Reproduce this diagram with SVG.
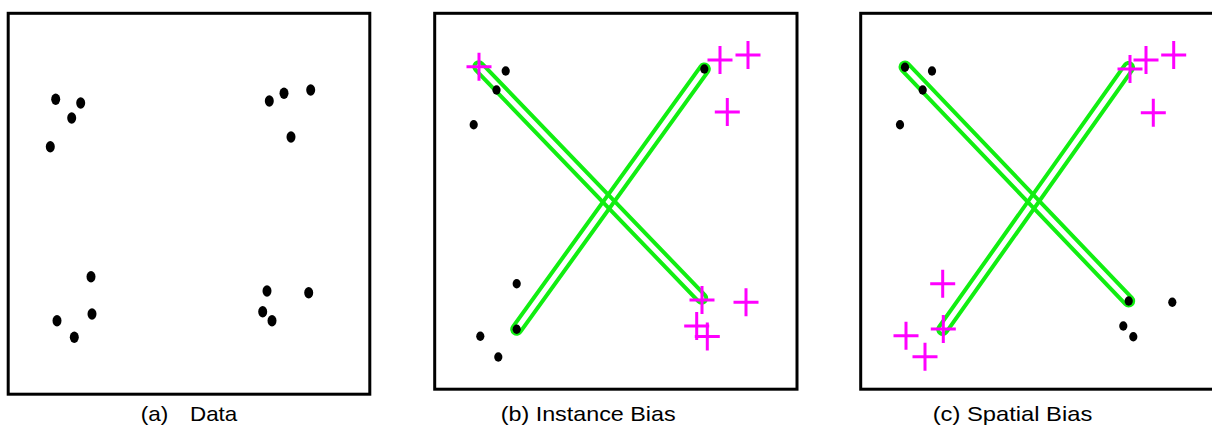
<svg xmlns="http://www.w3.org/2000/svg" xmlns:xlink="http://www.w3.org/1999/xlink" width="1212" height="425" viewBox="0 0 1212 425">
<style>
.frame{fill:none;stroke:#000;stroke-width:3}
.lbl{font-family:"Liberation Sans",Arial,sans-serif;font-size:21px;fill:#000}
.cap{stroke:#11ee11;stroke-width:4;fill:none}
.plus{stroke:#ff00ff;stroke-width:3;fill:none}
</style>
<defs>
<ellipse id="dA" rx="4.5" ry="5.7" fill="#000"/>
<ellipse id="dB" rx="4.1" ry="4.7" fill="#000"/>
<path id="pl" class="plus" d="M-12.5 0H12.5M0 -14V14"/>
</defs>
<rect width="1212" height="425" fill="#fff"/>

<g id="panel-a">
<rect class="frame" x="8.2" y="13.3" width="361.6" height="380.9"/>
<use xlink:href="#dA" x="55.7" y="99.3"/>
<use xlink:href="#dA" x="80.7" y="103"/>
<use xlink:href="#dA" x="71.7" y="118"/>
<use xlink:href="#dA" x="50.3" y="146.7"/>
<use xlink:href="#dA" x="269.3" y="101"/>
<use xlink:href="#dA" x="284" y="93.3"/>
<use xlink:href="#dA" x="310.7" y="90"/>
<use xlink:href="#dA" x="291" y="137"/>
<use xlink:href="#dA" x="91" y="276.7"/>
<use xlink:href="#dA" x="57" y="320.7"/>
<use xlink:href="#dA" x="92" y="314"/>
<use xlink:href="#dA" x="74.3" y="337.3"/>
<use xlink:href="#dA" x="267" y="291"/>
<use xlink:href="#dA" x="308.7" y="292.7"/>
<use xlink:href="#dA" x="262.7" y="311.7"/>
<use xlink:href="#dA" x="272" y="320.7"/>
<text class="lbl" y="420.5"><tspan x="140.7" textLength="27.6" lengthAdjust="spacingAndGlyphs">(a)</tspan><tspan x="190" textLength="47.3" lengthAdjust="spacingAndGlyphs">Data</tspan></text>
</g>

<g id="panel-b">
<rect class="frame" x="434.7" y="13.3" width="362.3" height="375.9"/>
<g id="connectors-b">
<rect class="cap" x="-4.5" y="-4.5" width="330.4" height="9" rx="4.5" transform="translate(478.8 66.7) rotate(46.09)"/>
<rect class="cap" x="-4.5" y="-4.5" width="329.9" height="9" rx="4.5" transform="translate(516.7 329.3) rotate(-54.22)"/>
</g>
<use xlink:href="#dB" x="505.7" y="71"/>
<use xlink:href="#dB" x="496.5" y="90"/>
<use xlink:href="#dB" x="473.7" y="124.7"/>
<use xlink:href="#dB" x="704.3" y="69"/>
<use xlink:href="#dB" x="516.7" y="283.7"/>
<use xlink:href="#dB" x="516.7" y="329.3"/>
<use xlink:href="#dB" x="480.3" y="336.3"/>
<use xlink:href="#dB" x="498.3" y="357"/>
<use xlink:href="#pl" x="479" y="66.7"/>
<use xlink:href="#pl" x="720" y="60"/>
<use xlink:href="#pl" x="748" y="55"/>
<use xlink:href="#pl" x="727.3" y="112"/>
<use xlink:href="#pl" x="702" y="300"/>
<use xlink:href="#pl" x="746" y="302.3"/>
<use xlink:href="#pl" x="696.7" y="326"/>
<use xlink:href="#pl" x="707.3" y="336.5"/>
<text class="lbl" x="500.7" y="420.5" textLength="175" lengthAdjust="spacingAndGlyphs">(b) Instance Bias</text>
</g>

<g id="panel-c">
<rect class="frame" x="860.7" y="13.3" width="360" height="375.9"/>
<g id="connectors-c">
<rect class="cap" x="-4.5" y="-4.5" width="332.7" height="9" rx="4.5" transform="translate(905 67) rotate(46.29)"/>
<rect class="cap" x="-4.5" y="-4.5" width="330.2" height="9" rx="4.5" transform="translate(942.7 329.5) rotate(-54.65)"/>
</g>
<use xlink:href="#dB" x="905" y="67.3"/>
<use xlink:href="#dB" x="932" y="71"/>
<use xlink:href="#dB" x="922.7" y="90"/>
<use xlink:href="#dB" x="900" y="124.7"/>
<use xlink:href="#dB" x="1128.7" y="301"/>
<use xlink:href="#dB" x="1172.3" y="302.3"/>
<use xlink:href="#dB" x="1123.3" y="326"/>
<use xlink:href="#dB" x="1133.3" y="336.7"/>
<use xlink:href="#pl" x="1130" y="69"/>
<use xlink:href="#pl" x="1146" y="60"/>
<use xlink:href="#pl" x="1173.7" y="55"/>
<use xlink:href="#pl" x="1153.3" y="112.7"/>
<use xlink:href="#pl" x="942.7" y="283.7"/>
<use xlink:href="#pl" x="943.3" y="329"/>
<use xlink:href="#pl" x="906" y="335.8"/>
<use xlink:href="#pl" x="925" y="356.7"/>
<text class="lbl" x="932.7" y="420.5" textLength="159.6" lengthAdjust="spacingAndGlyphs">(c) Spatial Bias</text>
</g>
</svg>
